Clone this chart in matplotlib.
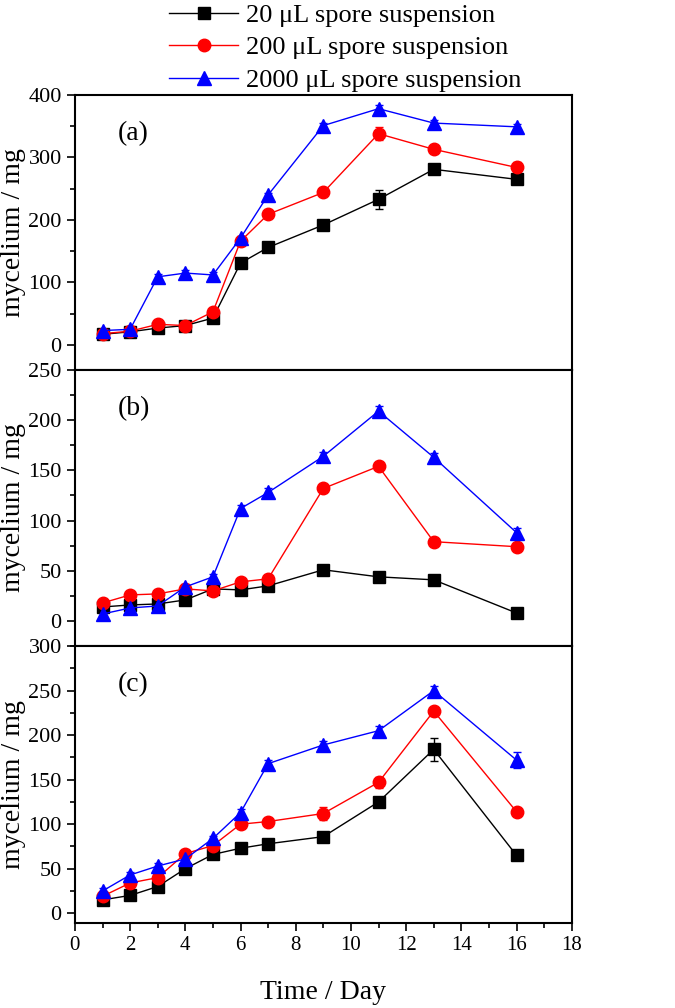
import numpy as np
import matplotlib
matplotlib.use("Agg")
import matplotlib.pyplot as plt
from matplotlib.ticker import MultipleLocator

plt.rcParams["font.family"] = ["Liberation Serif", "DejaVu Serif"]

# =========================================================
# DATA
# =========================================================
days = [1, 2, 3, 4, 5, 6, 7, 9, 11, 13, 16]

a_20   = [17, 21, 27, 31, 43, 131, 156, 192, 233, 281, 265]
a_200  = [18, 22, 33, 31, 53, 166, 209, 244, 338, 313, 284]
a_2000 = [23, 25, 109, 115, 112, 171, 240, 351, 378, 355, 349]
a_err_20   = [4, 3, 3, 3, 3, 3, 3, 3, 15, 4, 4]
a_err_200  = [3, 3, 3, 3, 4, 4, 3, 3, 10, 3, 8]
a_err_2000 = [3, 4, 4, 5, 4, 4, 3, 4, 6, 5, 5]

b_20   = [14, 16, 17, 21, 32, 31, 35, 51, 44, 41, 8]
b_200  = [18, 26, 27, 32, 30, 39, 42, 132, 154, 79, 74]
b_2000 = [7, 13, 15, 34, 44, 112, 128, 164, 209, 163, 88]
b_err_20   = [2, 2, 2, 2, 2, 2, 2, 2, 2, 2, 2]
b_err_200  = [2, 2, 2, 2, 2, 2, 2, 2, 2, 2, 2]
b_err_2000 = [3, 3, 3, 3, 3, 4, 4, 4, 5, 4, 5]

c_20   = [15, 20, 30, 50, 66, 73, 78, 86, 125, 184, 65]
c_200  = [19, 34, 40, 67, 76, 100, 103, 112, 147, 227, 114]
c_2000 = [25, 43, 53, 61, 84, 113, 168, 189, 205, 250, 172]
c_err_20   = [3, 3, 3, 3, 3, 3, 3, 3, 3, 13, 3]
c_err_200  = [3, 3, 3, 3, 3, 3, 3, 7, 6, 5, 3]
c_err_2000 = [3, 3, 3, 3, 3, 4, 4, 4, 5, 5, 9]

labels = ["20 μL spore suspension", "200 μL spore suspension",
          "2000 μL spore suspension"]
colors = ["black", "red", "blue"]
markers = ["s", "o", "^"]
msizes = [8.5, 9, 9.5]

panels = [
    ("(a)", [a_20, a_200, a_2000], [a_err_20, a_err_200, a_err_2000], (-40, 400), 100),
    ("(b)", [b_20, b_200, b_2000], [b_err_20, b_err_200, b_err_2000], (-25, 250), 50),
    ("(c)", [c_20, c_200, c_2000], [c_err_20, c_err_200, c_err_2000], (-11, 300), 50),
]

# =========================================================
# FIGURE
# =========================================================
fig = plt.figure(figsize=(6.75, 10.08), dpi=100)
left, width = 0.111, 0.736
bottoms = [0.633, 0.359, 0.0843]
heights = [0.2728, 0.274, 0.2747]

axes = []
for (tag, series, errs, ylim, major), b, h in zip(panels, bottoms, heights):
    ax = fig.add_axes([left, b, width, h])
    handles = []
    for vals, err, col, mk, ms, lab in zip(series, errs, colors, markers, msizes, labels):
        cont = ax.errorbar(days, vals, yerr=err, color=col, marker=mk, ms=ms,
                           lw=1, elinewidth=1, capsize=3, capthick=1, label=lab)
        handles.append(cont[0])
    ax.set_xlim(0, 18)
    ax.set_ylim(*ylim)
    ax.set_yticks(np.arange(0, ylim[1] + 1, major))
    ax.yaxis.set_minor_locator(MultipleLocator(major / 2))
    ax.xaxis.set_major_locator(MultipleLocator(2))
    ax.xaxis.set_minor_locator(MultipleLocator(1))
    ax.tick_params(which="both", direction="out", top=False, right=False,
                   width=1.2)
    ax.tick_params(axis="y", labelsize=16)
    ax.tick_params(axis="x", labelsize=15)
    ax.tick_params(which="major", length=6)
    ax.tick_params(which="minor", length=3.5)
    for s in ax.spines.values():
        s.set_linewidth(1.5)
    ax.set_ylabel("mycelium / mg", fontsize=20, labelpad=2)
    ax.text(0.087, 0.86, tag, transform=ax.transAxes, fontsize=20,
            va="center", ha="left")
    axes.append(ax)
    if tag == "(a)":
        legend_handles = handles

for ax in axes[:2]:
    ax.tick_params(axis="x", which="both", bottom=False, labelbottom=False)

axes[2].set_xlabel("Time / Day", fontsize=20, labelpad=18)

axes[0].legend(legend_handles, labels, loc="lower left",
               bbox_to_anchor=(0.19, 1.01), frameon=False,
               fontsize=19, handlelength=2.6, handletextpad=0.3,
               labelspacing=0.35, borderaxespad=0, borderpad=0)

fig.savefig("out.png", dpi=100)
